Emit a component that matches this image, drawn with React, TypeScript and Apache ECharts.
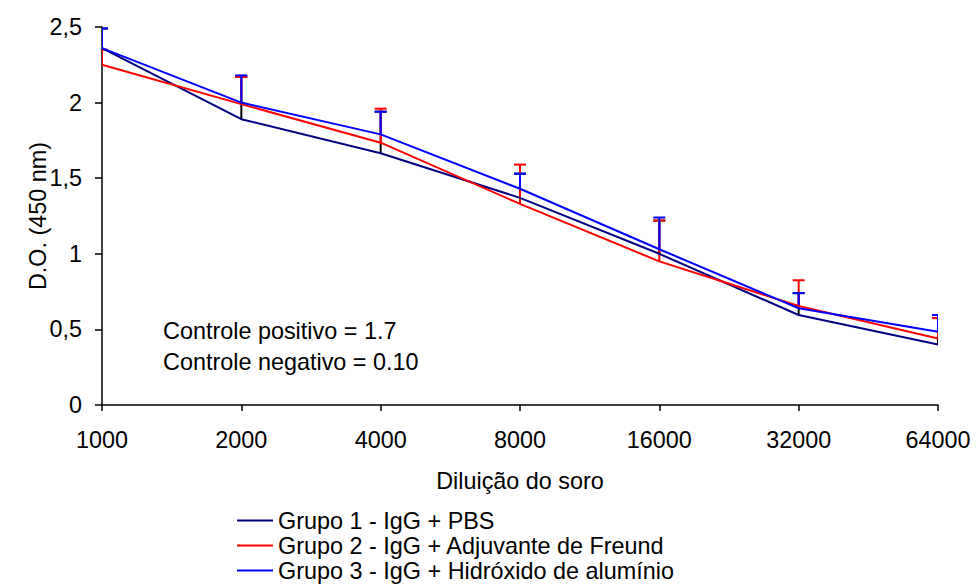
import React, { useEffect, useRef } from "react";
import * as echarts from "echarts";

const categories = ["1000", "2000", "4000", "8000", "16000", "32000", "64000"];
const group1 = [2.36, 1.89, 1.665, 1.37, 1.0, 0.595, 0.4];
const group2 = [2.25, 1.99, 1.735, 1.33, 0.95, 0.655, 0.44];
const group3 = [2.36, 2.0, 1.79, 1.43, 1.03, 0.64, 0.485];
const group1Top = [2.49, 2.17, 1.94, 1.53, 1.22, 0.74, 0.575];
const group2Top = [2.35, 2.17, 1.96, 1.59, 1.22, 0.825, 0.575];
const group3Top = [2.49, 2.18, 1.94, 1.53, 1.24, 0.74, 0.595];
const seriesNames = [
  "Grupo 1 - IgG + PBS",
  "Grupo 2 - IgG + Adjuvante de Freund",
  "Grupo 3 - IgG + Hidróxido de alumínio",
];
const yTicks = { min: 0, max: 2.5, interval: 0.5 };

const FONT = "'Liberation Sans', Arial, Helvetica, sans-serif";
const FS = 23.4;

function errSeries(name: string, color: string, means: number[], tops: number[], z: number) {
  return {
    type: "custom",
    name: name + " (erro)",
    clip: true,
    z,
    data: tops.map((t, i) => [i, means[i], t]),
    encode: { x: 0, y: [1, 2] },
    renderItem: (params: any, api: any) => {
      const x = api.value(0);
      const v = api.value(1);
      const t = api.value(2);
      const p0 = api.coord([x, v]);
      const p1 = api.coord([x, t]);
      return {
        type: "group",
        children: [
          {
            type: "line",
            shape: { x1: p0[0], y1: p0[1], x2: p1[0], y2: p1[1] },
            style: { stroke: color, lineWidth: 2 },
          },
          {
            type: "line",
            shape: { x1: p1[0] - 6, y1: p1[1], x2: p1[0] + 6, y2: p1[1] },
            style: { stroke: color, lineWidth: 2 },
          },
        ],
      };
    },
  };
}

function lineSeries(name: string, color: string, data: number[], z: number) {
  return {
    type: "line",
    name,
    data,
    z,
    symbol: "none",
    lineStyle: { color, width: 2 },
    itemStyle: { color },
  };
}

const legendTops = [504, 529, 554];

export default function App() {
  const ref = useRef<HTMLDivElement>(null);
  useEffect(() => {
    document.body.style.margin = "0";
    const chart = echarts.init(ref.current!, undefined, { renderer: "svg" });
    chart.setOption({
      animation: false,
      backgroundColor: "#ffffff",
      textStyle: { fontFamily: FONT },
      grid: { left: 102, right: 38, top: 27, bottom: 181, containLabel: false },
      xAxis: {
        type: "category",
        data: categories,
        boundaryGap: false,
        axisLine: { lineStyle: { color: "#000", width: 1.5 } },
        axisTick: { length: 6, lineStyle: { color: "#000", width: 1.5 } },
        axisLabel: { color: "#000", fontSize: FS, fontFamily: FONT, margin: 23 },
        splitLine: { show: false },
      },
      yAxis: {
        type: "value",
        min: yTicks.min,
        max: yTicks.max,
        interval: yTicks.interval,
        axisLine: { show: true, lineStyle: { color: "#000", width: 1.5 } },
        axisTick: { show: true, length: 7, lineStyle: { color: "#000", width: 1.5 } },
        axisLabel: {
          color: "#000",
          fontSize: FS,
          fontFamily: FONT,
          margin: 20,
          formatter: (v: number) => String(v).replace(".", ","),
        },
        splitLine: { show: false },
      },
      legend: seriesNames.map((n, i) => ({
        data: [n],
        orient: "vertical",
        left: 232,
        top: legendTops[i],
        icon: "rect",
        itemWidth: 36,
        itemHeight: 2,
        itemGap: 0,
        textStyle: { color: "#000", fontSize: FS, fontFamily: FONT },
      })),
      graphic: [
        {
          type: "text",
          x: 163,
          y: 331,
          style: {
            text: "Controle positivo = 1.7",
            fill: "#000",
            font: `${FS}px ${FONT}`,
            textAlign: "left",
            textVerticalAlign: "middle",
          },
        },
        {
          type: "text",
          x: 163,
          y: 362,
          style: {
            text: "Controle negativo = 0.10",
            fill: "#000",
            font: `${FS}px ${FONT}`,
            textAlign: "left",
            textVerticalAlign: "middle",
          },
        },
        {
          type: "text",
          x: 520,
          y: 481,
          style: {
            text: "Diluição do soro",
            fill: "#000",
            font: `${FS}px ${FONT}`,
            textAlign: "center",
            textVerticalAlign: "middle",
          },
        },
        {
          type: "text",
          x: 38,
          y: 216,
          rotation: Math.PI / 2,
          style: {
            text: "D.O. (450 nm)",
            fill: "#000",
            font: `${FS}px ${FONT}`,
            textAlign: "center",
            textVerticalAlign: "middle",
          },
        },
      ],
      series: [
        errSeries(seriesNames[0], "#000000", group1, group1Top, 1),
        errSeries(seriesNames[1], "#ff0000", group2, group2Top, 2),
        errSeries(seriesNames[2], "#0000ff", group3, group3Top, 3),
        lineSeries(seriesNames[0], "#000080", group1, 4),
        lineSeries(seriesNames[1], "#ff0000", group2, 5),
        lineSeries(seriesNames[2], "#0000ff", group3, 6),
      ],
    });
    return () => chart.dispose();
  }, []);
  return <div ref={ref} style={{ width: 976, height: 586 }} />;
}
